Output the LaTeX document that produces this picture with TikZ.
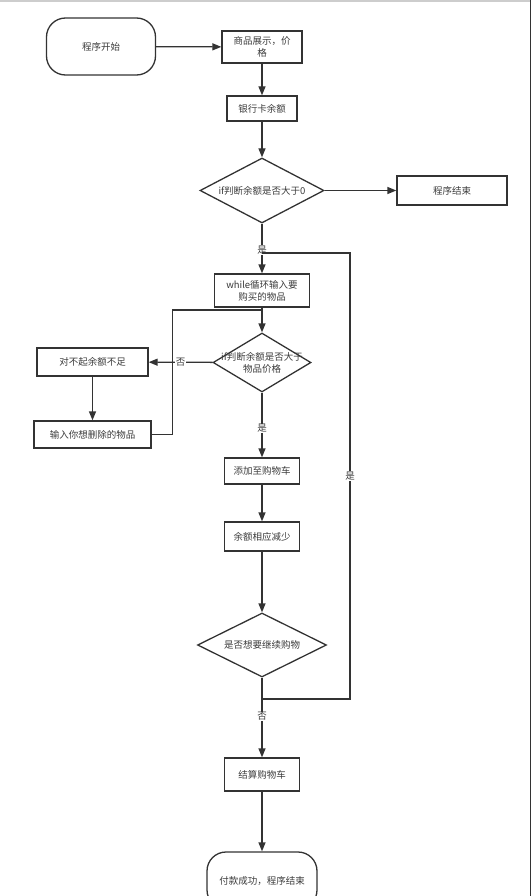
\documentclass[tikz,border=0pt]{standalone}
\usepackage{fontspec}
\newfontfamily\cjk{Noto Sans CJK SC}
\usetikzlibrary{calc,positioning,shapes.geometric,arrows.meta}
\definecolor{flowline}{RGB}{51,51,51}
\definecolor{flowtext}{RGB}{60,60,60}
\definecolor{pageedge}{RGB}{205,205,205}
\tikzset{
  base/.style={draw=flowline, line width=1.3pt, fill=white, font=\cjk\fontsize{9.5}{12}\selectfont,
    text=flowtext, inner sep=1pt, align=center},
  procbox/.style={base, rectangle},
  termbox/.style={base, rectangle, rounded corners=19pt, minimum width=109pt, minimum height=57pt},
  decide/.style={base, diamond, aspect=2, inner sep=0pt},
  flow/.style={draw=flowline, line width=1.3pt, -{Triangle[length=9pt,width=7pt]}},
  plain/.style={draw=flowline, line width=1.3pt},
  yesno/.style={fill=white, inner sep=0.5pt, text=flowtext, font=\cjk\fontsize{9.5}{11}\selectfont},
}

\begin{document}
\begin{tikzpicture}[x=1pt, y=-1pt]
% pixel grid of the 531x896 screenshot, y grows downward
\useasboundingbox (0,0) rectangle (531,896);
\clip (0,0) rectangle (531,896);
\fill[pageedge] (0,0) rectangle (531,2.5);
\fill[flowline] (529.5,0) rectangle (531,896);
\def\mx{262}   % main column
\def\bx{350}   % return line of the loop
% --- top part
\node[termbox] (start) at (101,46.5) {程序开始};
\node[procbox, minimum width=80pt, minimum height=32pt] (show) at (\mx,47) {商品展示，价\\格};
\node[procbox, minimum width=70pt, minimum height=25pt] (card) at (\mx,108.5) {银行卡余额};
\node[decide, minimum width=124pt, minimum height=65pt] (chk1) at (\mx,190.5) {if判断余额是否大于0};
\node[procbox, minimum width=110pt, minimum height=29pt] (stop) at (452,190.5) {程序结束};
% --- loop body
\node[procbox, minimum width=95pt, minimum height=33pt] (input) at (\mx,290.5) {while循环输入要\\购买的物品};
\node[decide, minimum width=98pt, minimum height=59pt,
  label={[align=center, font=\cjk\fontsize{9.5}{12}\selectfont, text=flowtext]center:if判断余额是否大于\\物品价格}]
  (chk2) at (\mx,362.5) {};
\node[procbox, minimum width=111pt, minimum height=28pt] (sorry) at (92.5,362) {对不起余额不足};
\node[procbox, minimum width=117pt, minimum height=27pt] (remove) at (92.5,434.5) {输入你想删除的物品};
\node[procbox, minimum width=75pt, minimum height=26pt] (add) at (\mx,471) {添加至购物车};
\node[procbox, minimum width=75pt, minimum height=29pt] (less) at (\mx,536.5) {余额相应减少};
\node[decide, minimum width=129pt, minimum height=64pt] (chk3) at (\mx,645) {是否想要继续购物};
% --- checkout
\node[procbox, minimum width=75pt, minimum height=33pt] (pay) at (\mx,774.5) {结算购物车};
\node[termbox, minimum width=110pt] (done) at (\mx,880.5) {付款成功，程序结束};
% turning points
\coordinate (split) at (\mx,699);
\coordinate (back) at (\bx,253);
\coordinate (rejoin) at (172.7,310);
% connectors
\draw[flow] (start) -- (show);
\draw[flow] (show) -- (card);
\draw[flow] (card) -- (chk1);
\draw[flow] (chk1) -- (stop);
\draw[flow] (chk1) -- node[yesno, pos=0.53] {是} (input);
\draw[flow] (input) -- (chk2);
\draw[flow] (chk2) -- node[yesno] {否} (sorry);
\draw[flow] (sorry) -- (remove);
\draw[plain] (remove.east) -| (rejoin) -- (rejoin -| input.south);
\draw[flow] (chk2) -- node[yesno, pos=0.55] {是} (add);
\draw[flow] (add) -- (less);
\draw[flow] (less) -- (chk3);
\draw[plain] (chk3.south) -- (split) -| node[yesno, pos=0.75] {是} (back) -- (back -| input.north);
\draw[flow] (split) -- node[yesno, pos=0.3] {否} (pay);
\draw[flow] (pay) -- (done);
\end{tikzpicture}
\end{document}
